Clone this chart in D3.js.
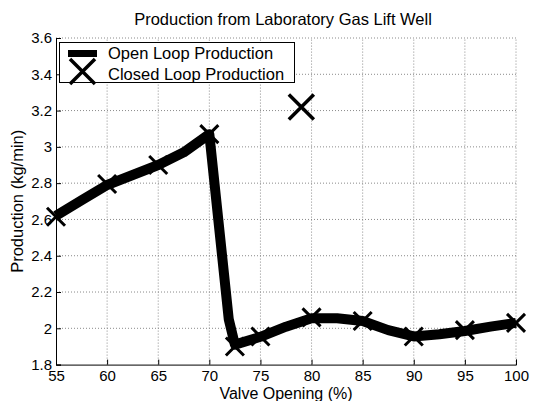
<!DOCTYPE html>
<html>
<head>
<meta charset="utf-8">
<script src="https://cdn.jsdelivr.net/npm/d3@7"></script>
<style>
  html, body { margin: 0; padding: 0; background: #fff; }
  text { font-family: Arial, "Liberation Sans", Helvetica, sans-serif; fill: #000; }
</style>
</head>
<body>
<svg id="chart" width="533" height="401"></svg>
<script>
// ---- data ----
const openLoopX = [55, 57.5, 60, 62.5, 65, 67.5, 70, 71.9, 72.5, 75, 77.5, 80, 82.5, 85, 87.5, 90, 92.5, 95, 97.5, 100];
const openLoopY = [2.62, 2.706, 2.79, 2.845, 2.90, 2.97, 3.07, 2.05, 1.91, 1.953, 2.009, 2.055, 2.055, 2.04, 1.99, 1.955, 1.967, 1.985, 2.009, 2.03];
const closedLoopX = [55, 60, 65, 70, 72.5, 75, 80, 85, 90, 95, 100];
const closedLoopY = [2.615, 2.795, 2.90, 3.07, 1.90, 1.955, 2.06, 2.04, 1.955, 1.99, 2.03];
const closedOutlierX = [79];
const closedOutlierY = [3.22];
const xTicks = [55, 60, 65, 70, 75, 80, 85, 90, 95, 100];
const yTicks = [1.8, 2, 2.2, 2.4, 2.6, 2.8, 3, 3.2, 3.4, 3.6];
const titleText = "Production from Laboratory Gas Lift Well";
const xLabel = "Valve Opening (%)";
const yLabel = "Production (kg/min)";
const legendLabels = ["Open Loop Production", "Closed Loop Production"];

// ---- layout ----
const svg = d3.select("#chart");
const L = 56, R = 516, T = 38, B = 364.6;
const x = d3.scaleLinear().domain([55, 100]).range([L, R]);
const y = d3.scaleLinear().domain([1.8, 3.6]).range([B, T]);

// grid
const grid = svg.append("g");
grid.selectAll("line.gx").data(xTicks.slice(1)).enter().append("line")
  .attr("x1", d => x(d)).attr("x2", d => x(d)).attr("y1", B).attr("y2", T)
  .attr("stroke", "#8a8a8a").attr("stroke-width", 1).attr("stroke-dasharray", "1,2");
grid.selectAll("line.gy").data(yTicks.slice(1)).enter().append("line")
  .attr("x1", L).attr("x2", R).attr("y1", d => y(d)).attr("y2", d => y(d))
  .attr("stroke", "#8a8a8a").attr("stroke-width", 1).attr("stroke-dasharray", "1,2");

// axes
const fmt = d => (d === 2 || d === 3) ? String(d) : d3.format(".1f")(d);
const xAxis = d3.axisBottom(x).tickValues(xTicks).tickSize(-5).tickPadding(6).tickFormat(d3.format("d"));
const yAxis = d3.axisLeft(y).tickValues(yTicks).tickSize(-5).tickPadding(4).tickFormat(fmt);
const gx = svg.append("g").attr("transform", `translate(0,${B})`).call(xAxis);
const gy = svg.append("g").attr("transform", `translate(${L},0)`).call(yAxis);
[gx, gy].forEach(g => {
  g.select(".domain").attr("stroke", "#000").attr("stroke-width", 1);
  g.selectAll(".tick line").attr("stroke", "#000");
  g.selectAll(".tick text").style("font-size", "15px").attr("fill", "#000")
    .style("font-family", "Arial, 'Liberation Sans', sans-serif");
});

// open loop line
const line = d3.line().x(d => x(d[0])).y(d => y(d[1]));
const openData = openLoopX.map((v, i) => [v, openLoopY[i]]);
svg.append("path").datum(openData).attr("d", line)
  .attr("fill", "none").attr("stroke", "#000").attr("stroke-width", 10)
  .attr("stroke-linejoin", "round").attr("stroke-linecap", "butt");

// X markers
function cross(g, cx, cy, h, w) {
  g.append("path")
    .attr("d", `M${cx - h},${cy - h}L${cx + h},${cy + h}M${cx - h},${cy + h}L${cx + h},${cy - h}`)
    .attr("stroke", "#000").attr("stroke-width", w).attr("fill", "none");
}
const mk = svg.append("g");
closedLoopX.forEach((v, i) => cross(mk, x(v), y(closedLoopY[i]), 9, 3));
closedOutlierX.forEach((v, i) => cross(mk, x(v), y(closedOutlierY[i]), 12.5, 3.5));

// legend
const lg = svg.append("g");
lg.append("rect").attr("x", 59.5).attr("y", 42.5).attr("width", 235).attr("height", 40)
  .attr("fill", "#fff").attr("stroke", "#000").attr("stroke-width", 1);
lg.append("line").attr("x1", 68).attr("x2", 97).attr("y1", 53.5).attr("y2", 53.5)
  .attr("stroke", "#000").attr("stroke-width", 7);
cross(lg, 82.5, 71.5, 12.5, 3.5);
lg.selectAll("text.lt").data(legendLabels).enter().append("text")
  .attr("x", 108).attr("y", (d, i) => 59 + i * 20.5)
  .style("font-size", "16.5px").text(d => d);

// title and labels
svg.append("text").attr("x", 283).attr("y", 25).attr("text-anchor", "middle")
  .style("font-size", "16.5px").text(titleText);
svg.append("text").attr("x", 286).attr("y", 399).attr("text-anchor", "middle")
  .style("font-size", "16px").text(xLabel);
svg.append("text").attr("transform", `translate(23,${(T + B) / 2}) rotate(-90)`)
  .attr("text-anchor", "middle").style("font-size", "16.5px").text(yLabel);
</script>
</body>
</html>
